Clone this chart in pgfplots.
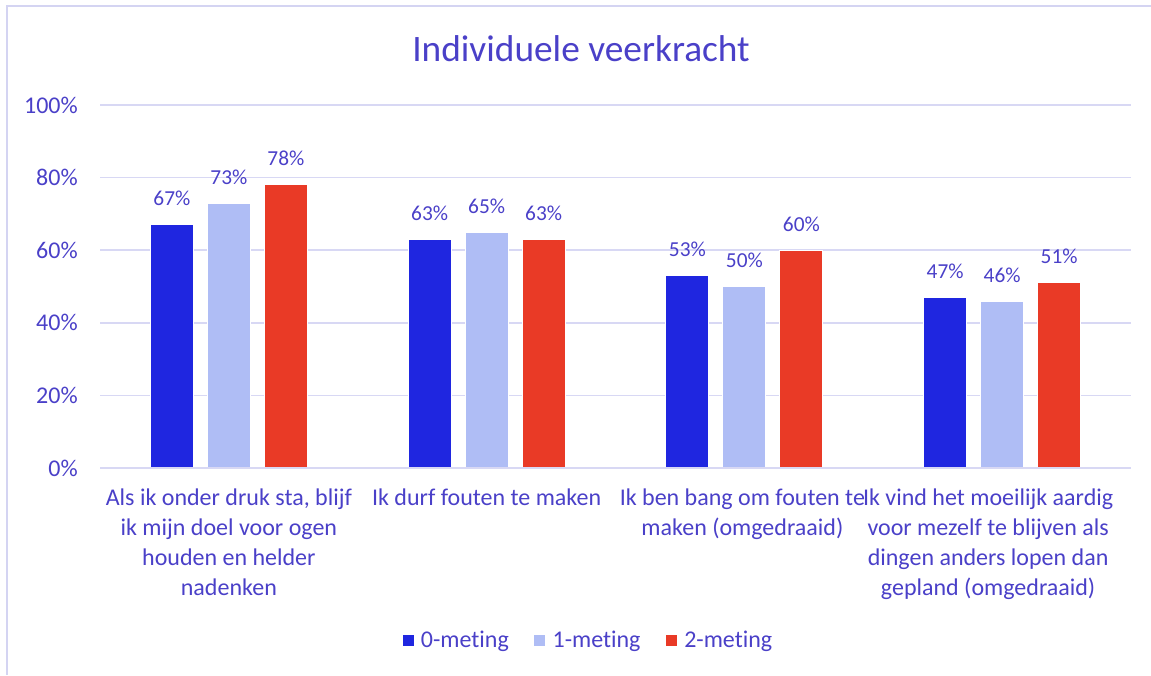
\documentclass[border=0pt]{standalone}
\usepackage{pgfplots}
\pgfplotsset{compat=1.18}
\usepackage{fontspec}
\setmainfont{Carlito}[Ligatures=NoCommon]
\definecolor{txt}{HTML}{4A40C8}
\definecolor{grd}{HTML}{D8D8F4}
\definecolor{frm}{HTML}{D4D4F2}
\definecolor{cA}{HTML}{1F26E0}
\definecolor{cB}{HTML}{AFBDF5}
\definecolor{cC}{HTML}{E93A26}
\begin{document}
\begin{tikzpicture}
\path[use as bounding box] (0,0) rectangle (863.25pt,506.25pt);
\draw[frm, line width=1.2pt] (5.25pt,0pt) -- (5.25pt,501.75pt) -- (863.25pt,501.75pt);
\node[anchor=base, text=txt, font=\fontsize{28}{33}\selectfont, inner sep=0pt] at (435.75pt,459.75pt) {Individuele veerkracht};
\begin{axis}[
  at={(75pt,155.25pt)}, anchor=south west,
  scale only axis, width=773.25pt, height=272.25pt,
  xmin=-0.5, xmax=3.5, ymin=0, ymax=100,
  ybar=10.5pt, bar width=32.25pt,
  axis line style={draw=none},
  axis x line*=bottom,
  ytick={0,20,40,60,80,100},
  ymajorgrids, grid style={grd, line width=1.1pt},
  major tick length=0pt, tick style={draw=none},
  /pgf/number format/assume math mode=true,
  yticklabel={\pgfmathprintnumber{\tick}\%},
  yticklabel style={anchor=east, inner sep=0pt, xshift=-16.5pt, text=txt, font=\fontsize{18}{22}\selectfont},
  xtick=data,
  xticklabels={{Als ik onder druk sta, blijf\\ik mijn doel voor ogen\\houden en helder\\nadenken},
    {Ik durf fouten te maken},
    {Ik ben bang om fouten te\\maken (omgedraaid)},
    {Ik vind het moeilijk aardig\\voor mezelf te blijven als\\dingen anders lopen dan\\gepland (omgedraaid)}},
  xticklabel style={align=center, anchor=north, inner sep=0pt, yshift=-15.5pt,
    xshift={(\ticknum==2)*(-1.5pt)+(\ticknum==3)*(-10.5pt)},
    text=txt, font=\fontsize{18}{22.5}\selectfont},
  nodes near coords={\pgfmathprintnumber{\pgfplotspointmeta}\%},
  nodes near coords style={anchor=base, inner sep=0pt, yshift=14.25pt, text=txt, font=\fontsize{16}{19}\selectfont},
  legend columns=3,
  legend style={at={(axis description cs:0.474,-0.474)}, anchor=center, draw=none, fill=none,
    font=\fontsize{18}{22}\selectfont, text=txt, column sep=3.5pt,
    /tikz/every even column/.append style={column sep=17pt}},
  legend cell align=left,
]
\addplot[fill=cA, draw=white, line width=0.8pt, legend image code/.code={\fill[cA] (0pt,-3.75pt) rectangle (7.5pt,3.75pt);}] coordinates {(0,67) (1,63) (2,53) (3,47)};
\addplot[fill=cB, draw=white, line width=0.8pt, legend image code/.code={\fill[cB] (0pt,-3.75pt) rectangle (7.5pt,3.75pt);}] coordinates {(0,73) (1,65) (2,50) (3,46)};
\addplot[fill=cC, draw=white, line width=0.8pt, legend image code/.code={\fill[cC] (0pt,-3.75pt) rectangle (7.5pt,3.75pt);}] coordinates {(0,78) (1,63) (2,60) (3,51)};
\legend{0-meting,1-meting,2-meting}
\draw[grd, line width=1.1pt] (rel axis cs:0,0) -- (rel axis cs:1,0);
\end{axis}
\end{tikzpicture}
\end{document}
